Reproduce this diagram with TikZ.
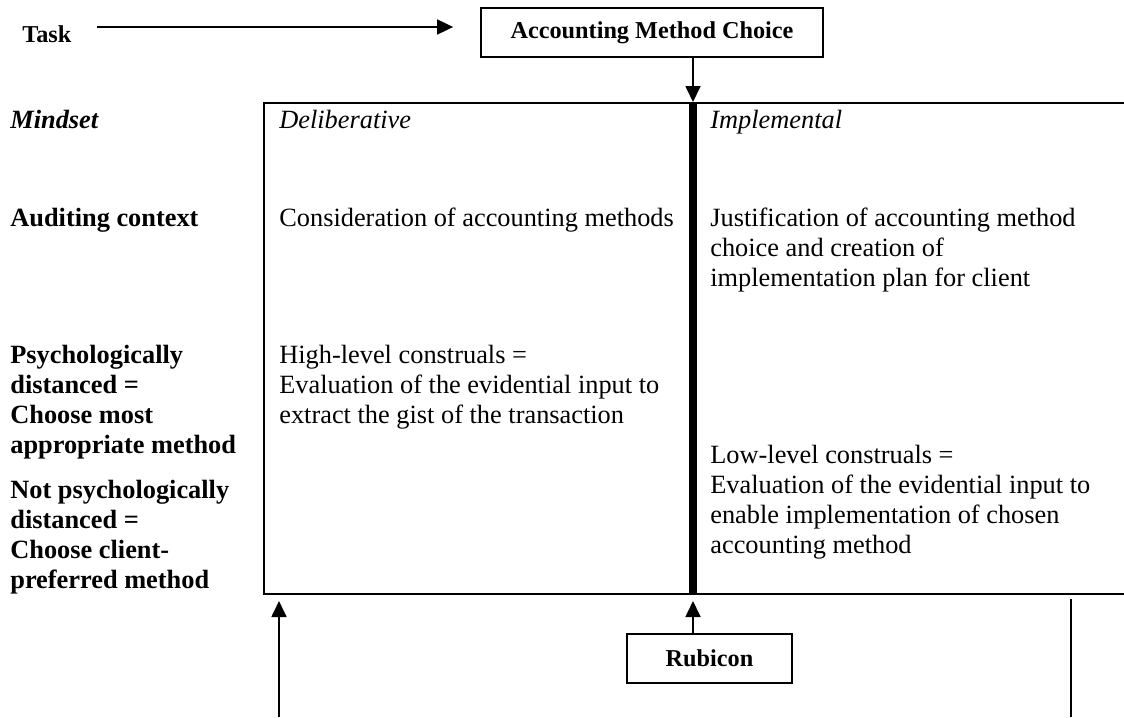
\documentclass[tikz,border=0pt]{standalone}
\usepackage{fontspec}
\setmainfont{Liberation Serif}
\usetikzlibrary{arrows.meta,positioning}

\begin{document}
\begin{tikzpicture}[
  x=0.02cm,
  y=-0.02cm,
  font=\fontsize{15}{17}\selectfont,
  sidelabel/.style={anchor=north west, inner sep=0pt, align=left, font=\fontsize{15}{17}\selectfont\bfseries},
  headtxt/.style={anchor=north west, inner sep=0pt, font=\fontsize{15}{17}\selectfont\itshape},
  celltxt/.style={anchor=north west, inner sep=0pt, align=left},
  titlebox/.style={draw, line width=1pt, inner sep=0pt, font=\fontsize{13.8}{16}\selectfont\bfseries},
  arrow/.style={-{Triangle[length=3.2mm,width=3mm]}, line width=1pt},
  plainline/.style={line width=1pt}
]
\useasboundingbox (0,0) rectangle (1124,717);

% top row
\node[anchor=base west, inner sep=0pt, font=\fontsize{13.8}{16}\selectfont\bfseries] (task) at (22,42) {Task};
\node[titlebox, minimum width=342*0.02cm, minimum height=49*0.02cm] (choice) at (652,32.5) {Accounting Method Choice};

% frame of the two mindsets
\node[draw, line width=0.9pt, minimum width=880*0.02cm, minimum height=491*0.02cm, inner sep=0pt, anchor=north west] (frame) at (263,102) {};
\coordinate (divtop) at (693,102);
\coordinate (divbot) at (693,593);
\draw[line width=8*0.02cm] (divtop) -- (divbot);

% row labels
\node[sidelabel, font=\fontsize{15}{17}\selectfont\bfseries\itshape] (mindset) at (10,110) {Mindset};
\node[sidelabel] (audit) at (10,208) {Auditing context};
\node[sidelabel] (distant) at (10,345) {Psychologically\\distanced =\\Choose most\\appropriate method};
\node[sidelabel] (near) at (10,480) {Not psychologically\\distanced =\\Choose client-\\preferred method};

% deliberative column
\node[headtxt] (delib) at (279,110) {Deliberative};
\node[celltxt] (consider) at (279,208) {Consideration of accounting methods};
\node[celltxt] (highlevel) at (279,345) {High-level construals =\\Evaluation of the evidential input to\\extract the gist of the transaction};

% implemental column
\node[headtxt] (implem) at (710,110) {Implemental};
\node[celltxt] (justify) at (710,208) {Justification of accounting method\\choice and creation of\\implementation plan for client};
\node[celltxt] (lowlevel) at (710,445) {Low-level construals =\\Evaluation of the evidential input to\\enable implementation of chosen\\accounting method};

% bottom row
\node[titlebox, minimum width=165*0.02cm, minimum height=49*0.02cm] (rubicon) at (709.5,658.5) {Rubicon};
\coordinate (taskout) at (97,27);
\coordinate (leftfoot) at (279,717);
\coordinate (rightfoot) at (1071,717);
\coordinate (righttop) at (1071,599);

\draw[arrow] (taskout) -- ([xshift=-27*0.02cm]choice.west |- taskout);
\draw[arrow] (choice.south -| divtop) -- (divtop);
\draw[arrow] (leftfoot) -- ([yshift=-8*0.02cm]leftfoot |- divbot);
\draw[arrow] (rubicon.north -| divbot) -- ([yshift=-8*0.02cm]divbot);
\draw[plainline] (rightfoot) -- (righttop);
\end{tikzpicture}
\end{document}
